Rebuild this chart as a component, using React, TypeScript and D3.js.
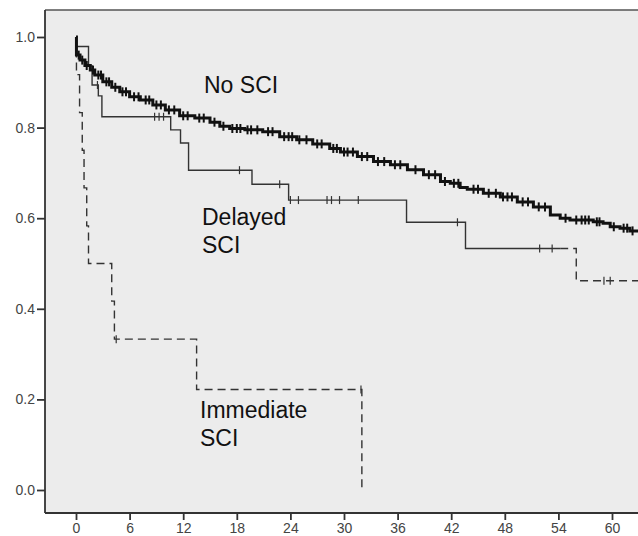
import React, { useEffect, useRef } from "react";
import * as d3 from "d3";

// tick labels
const xTicks = [0, 6, 12, 18, 24, 30, 36, 42, 48, 54, 60];
const yTicks = [0.0, 0.2, 0.4, 0.6, 0.8, 1.0];

// No SCI (thick, many censored)
const noSciTimes = [0, 0.05, 0.45, 1.0, 1.6, 2.1, 3.0, 4.0, 4.9, 6.0, 7.2, 8.6, 10.0, 11.6, 13.3, 15.0, 16.1, 17.2, 18.9, 20.9, 22.8, 24.7, 26.5, 28.4, 29.6, 31.5, 33.3, 35.2, 37.1, 38.9, 40.8, 41.9, 43.0, 43.8, 45.6, 47.5, 49.4, 51.2, 53.1, 54.2, 55.3, 57.9, 59.0, 59.8, 60.9, 62.0, 63.5];
const noSciSurv = [1.0, 0.96, 0.949, 0.937, 0.927, 0.916, 0.901, 0.889, 0.879, 0.868, 0.861, 0.85, 0.839, 0.826, 0.821, 0.812, 0.803, 0.798, 0.795, 0.791, 0.78, 0.773, 0.764, 0.754, 0.746, 0.736, 0.725, 0.718, 0.707, 0.696, 0.681, 0.677, 0.668, 0.664, 0.655, 0.647, 0.636, 0.625, 0.607, 0.6, 0.596, 0.592, 0.589, 0.581, 0.578, 0.572, 0.572];
const noSciCensored = [0.3, 0.7, 1.2, 1.9, 2.5, 2.8, 3.4, 3.7, 4.4, 5.2, 5.6, 6.5, 7.0, 7.8, 8.2, 9.0, 9.5, 10.4, 11.0, 12.0, 12.5, 13.8, 14.3, 15.5, 16.5, 17.5, 18.0, 18.4, 19.2, 19.6, 20.3, 21.5, 22.0, 23.3, 23.8, 24.2, 25.0, 25.8, 27.0, 27.5, 28.8, 29.2, 30.0, 30.4, 31.0, 32.0, 32.6, 33.8, 34.5, 35.7, 36.3, 38.0, 39.5, 40.2, 41.3, 42.3, 42.8, 44.5, 45.0, 46.2, 47.0, 47.8, 48.3, 48.8, 50.0, 50.6, 51.8, 52.5, 54.8, 56.0, 56.6, 57.0, 57.4, 58.3, 58.6, 60.2, 61.3, 61.7, 62.3];

// Delayed SCI (thin solid)
const delayedTimes = [0, 0.02, 1.4, 1.8, 2.5, 2.9, 10.6, 11.7, 12.6, 19.7, 23.8, 37.0, 43.6, 54.2];
const delayedSurv = [1.0, 0.979, 0.936, 0.894, 0.87, 0.824, 0.795, 0.766, 0.706, 0.675, 0.64, 0.591, 0.533, 0.533];
const delayedCensored = [2.4, 8.8, 9.3, 9.8, 18.3, 22.8, 24.0, 24.9, 28.1, 28.6, 29.5, 31.6, 42.7, 51.9, 53.3];

// tail drawn dashed
const tailTimes = [54.2, 56.0, 63.5];
const tailSurv = [0.533, 0.462, 0.462];
const tailCensored = [59.1, 59.8];

// Immediate SCI (dashed)
const immTimes = [0, 0.05, 0.4, 0.7, 0.9, 1.2, 1.4, 4.0, 4.3, 13.5, 32.0];
const immSurv = [1.0, 0.917, 0.833, 0.75, 0.667, 0.583, 0.5, 0.417, 0.333, 0.222, 0.0];
const immCensored = [4.5, 31.9];

const W = 638;
const H = 536;

const App = () => {
  const svgRef = useRef<SVGSVGElement>(null);

  useEffect(() => {
    const svg = d3.select(svgRef.current);
    svg.selectAll("*").remove();

    const x = d3.scaleLinear().domain([0, 60]).range([76, 612]);
    const y = d3.scaleLinear().domain([0, 1]).range([490, 37]);

    const left = 45, top = 10, bottom = 513;

    // plot background
    svg.append("rect")
      .attr("x", left).attr("y", top)
      .attr("width", W - left).attr("height", bottom - top)
      .attr("fill", "#ececec");

    const g = svg.append("g").attr("clip-path", "url(#plotclip)");
    svg.append("clipPath").attr("id", "plotclip")
      .append("rect").attr("x", left).attr("y", top)
      .attr("width", W - left).attr("height", bottom - top);

    const line = d3.line<[number, number]>()
      .x((d) => x(d[0]))
      .y((d) => y(d[1]))
      .curve(d3.curveStepAfter);

    const series = (times: number[], surv: number[]) =>
      times.map((t, i) => [t, surv[i]] as [number, number]);

    const survAt = (times: number[], surv: number[], t: number) => {
      const i = d3.bisectRight(times, t) - 1;
      return surv[Math.max(0, i)];
    };

    const drawCurve = (times: number[], surv: number[], censored: number[], opts: any) => {
      g.append("path")
        .datum(series(times, surv))
        .attr("d", line)
        .attr("fill", "none")
        .attr("stroke", opts.color)
        .attr("stroke-width", opts.width)
        .attr("stroke-dasharray", opts.dash || null)
        .attr("stroke-linejoin", "miter");
      g.selectAll(null)
        .data(censored)
        .enter()
        .append("line")
        .attr("x1", (d) => x(d)).attr("x2", (d) => x(d))
        .attr("y1", (d) => y(survAt(times, surv, d)) - opts.tick)
        .attr("y2", (d) => y(survAt(times, surv, d)) + opts.tick)
        .attr("stroke", opts.color)
        .attr("stroke-width", opts.tickWidth);
    };

    drawCurve(immTimes, immSurv, immCensored, { color: "#333", width: 1.4, dash: "8,5", tick: 4, tickWidth: 1.2 });
    drawCurve(tailTimes, tailSurv, tailCensored, { color: "#333", width: 1.4, dash: "8,5", tick: 4, tickWidth: 1.2 });
    drawCurve(delayedTimes, delayedSurv, delayedCensored, { color: "#333", width: 1.4, tick: 4, tickWidth: 1.2 });
    drawCurve(noSciTimes, noSciSurv, noSciCensored, { color: "#111", width: 3, tick: 4.5, tickWidth: 2 });

    // frame
    svg.append("line").attr("x1", left).attr("x2", W).attr("y1", top).attr("y2", top)
      .attr("stroke", "#555").attr("stroke-width", 1.5);
    svg.append("line").attr("x1", left).attr("x2", left).attr("y1", top).attr("y2", bottom)
      .attr("stroke", "#333").attr("stroke-width", 1.8);
    svg.append("line").attr("x1", left).attr("x2", W).attr("y1", bottom).attr("y2", bottom)
      .attr("stroke", "#333").attr("stroke-width", 1.8);

    // y axis
    const yAxis = d3.axisLeft(y)
      .tickValues(yTicks)
      .tickSize(8)
      .tickPadding(2)
      .tickFormat(d3.format(".1f"));
    const ya = svg.append("g").attr("transform", `translate(${left},0)`).call(yAxis);
    ya.select(".domain").remove();
    ya.selectAll(".tick line").attr("stroke", "#333").attr("stroke-width", 1.8);
    ya.selectAll(".tick text")
      .attr("font-family", "Liberation Sans, Arial, sans-serif")
      .attr("font-size", 14)
      .attr("fill", "#444");

    // x axis
    const xAxis = d3.axisBottom(x)
      .tickValues(xTicks)
      .tickSize(7)
      .tickPadding(3)
      .tickFormat(d3.format("d"));
    const xa = svg.append("g").attr("transform", `translate(0,${bottom})`).call(xAxis);
    xa.select(".domain").remove();
    xa.selectAll(".tick line").attr("stroke", "#333").attr("stroke-width", 1.8);
    xa.selectAll(".tick text")
      .attr("font-family", "Liberation Sans, Arial, sans-serif")
      .attr("font-size", 14)
      .attr("fill", "#444");

    // group labels
    const labels = [
      { text: "No SCI", x: 204, y: 93 },
      { text: "Delayed", x: 202, y: 225 },
      { text: "SCI", x: 202, y: 253 },
      { text: "Immediate", x: 200, y: 418 },
      { text: "SCI", x: 200, y: 446 },
    ];
    svg.selectAll(".grp-label")
      .data(labels)
      .enter()
      .append("text")
      .attr("class", "grp-label")
      .attr("x", (d) => d.x)
      .attr("y", (d) => d.y)
      .attr("font-family", "Liberation Sans, Arial, sans-serif")
      .attr("font-size", 23)
      .attr("fill", "#111")
      .text((d) => d.text);
  }, []);

  return (
    <svg
      ref={svgRef}
      width={W}
      height={H}
      style={{ position: "absolute", left: 0, top: 0, background: "#fff" }}
    />
  );
};

export default App;
